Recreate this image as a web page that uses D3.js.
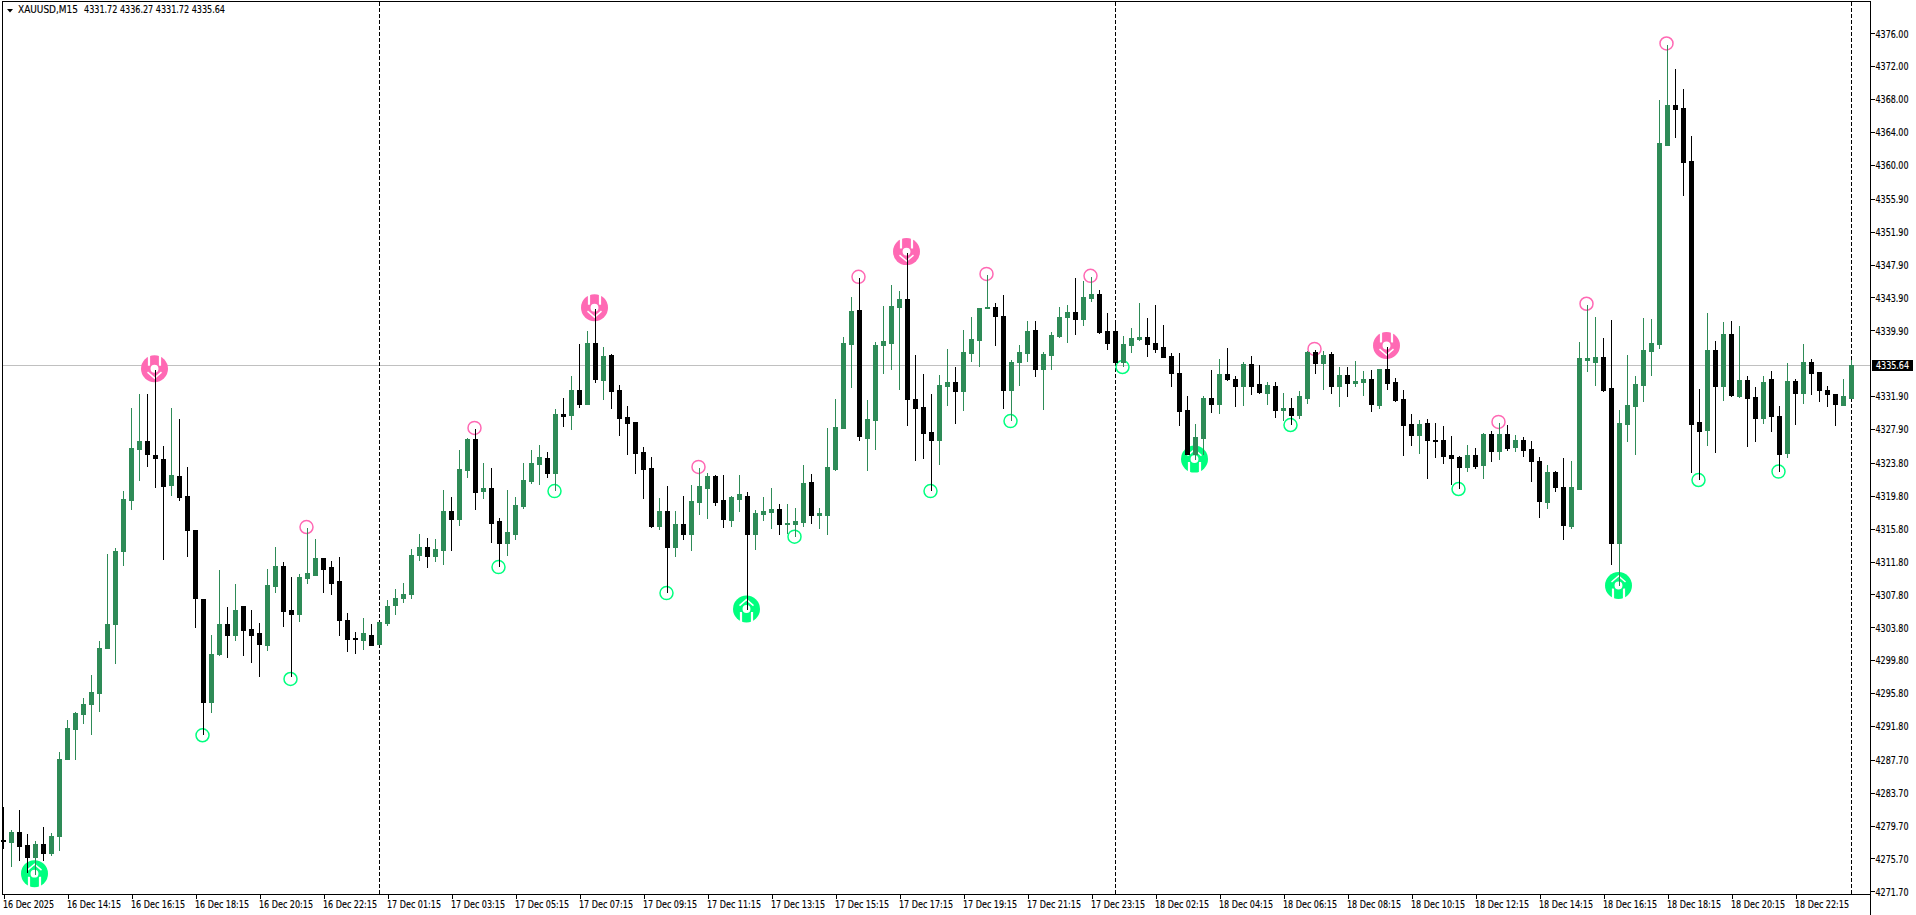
<!DOCTYPE html>
<html>
<head>
<meta charset="utf-8">
<script src="https://cdn.jsdelivr.net/npm/d3@7/dist/d3.min.js"></script>
<style>
html,body{margin:0;padding:0;background:#fff;overflow:hidden}
svg{display:block}
text{font-family:"DejaVu Sans Condensed","DejaVu Sans",sans-serif;font-size:10.5px;fill:#000;stroke:#000;stroke-width:.15px}
</style>
</head>
<body>
<svg id="chart" width="1916" height="915"></svg>
<script>
const symbolLabel = "XAUUSD,M15";
const headerQuote = "4331.72 4336.27 4331.72 4335.64";
const lastPrice = 4335.64;

const opens = [4277.96,4277.73,4278.98,4277.29,4275.91,4277.42,4276.40,4278.45,4287.81,4291.47,
4293.29,4294.50,4295.83,4301.32,4304.26,4313.13,4319.33,4325.52,4326.42,4324.81,
4324.32,4321.16,4322.14,4319.82,4315.58,4307.29,4294.76,4300.60,4304.26,4302.92,
4306.36,4303.55,4303.06,4301.67,4308.85,4311.30,4305.86,4305.46,4309.83,4310.19,
4312.19,4311.08,4309.39,4304.75,4302.48,4302.30,4302.92,4301.76,4304.30,4306.53,
4307.39,4307.84,4312.58,4313.55,4312.46,4313.19,4317.93,4316.96,4322.91,4326.68,
4320.36,4320.73,4316.71,4314.04,4315.13,4318.54,4321.58,4323.64,4324.37,4322.55,
4329.72,4329.60,4332.64,4330.94,4338.35,4333.85,4336.89,4332.64,4329.36,4328.75,
4325.10,4323.16,4316.11,4317.93,4313.55,4316.35,4315.13,4319.02,4320.73,4322.18,
4319.27,4316.84,4319.39,4319.75,4315.13,4317.57,4317.81,4318.17,4316.35,4316.35,
4316.59,4321.46,4317.45,4317.45,4323.04,4328.02,4338.23,4342.37,4326.81,4328.99,
4338.11,4338.35,4342.73,4343.70,4331.55,4330.57,4327.53,4326.56,4333.13,4333.61,
4332.52,4337.14,4338.72,4342.61,4342.73,4341.64,4332.64,4336.04,4337.14,4339.93,
4335.19,4336.89,4339.20,4341.51,4342.12,4341.27,4343.82,4344.31,4339.81,4339.81,
4336.04,4338.11,4338.84,4339.08,4338.35,4337.87,4336.77,4334.71,4330.21,4324.82,
4326.80,4331.67,4330.94,4334.58,4333.98,4333.13,4335.80,4333.37,4332.27,4333.13,
4330.21,4330.45,4329.60,4331.67,4337.26,4335.92,4337.02,4333.13,4334.46,4333.49,
4333.61,4333.98,4330.82,4335.19,4333.61,4331.55,4328.51,4327.17,4328.63,4326.56,
4326.56,4324.74,4324.50,4323.28,4324.74,4323.52,4327.29,4325.22,4327.29,4325.71,
4326.56,4325.45,4324.06,4319.03,4322.71,4320.90,4316.15,4320.57,4336.29,4336.06,
4336.67,4332.90,4314.10,4328.52,4330.71,4333.27,4337.41,4338.25,4362.44,4367.32,
4366.95,4360.53,4328.76,4327.83,4337.55,4333.18,4339.46,4331.92,4333.88,4331.83,
4329.27,4334.01,4329.50,4324.99,4333.78,4332.29,4336.06,4334.85,4332.67,4332.20,
4330.85,4331.72];

const highs = [4282.01,4279.16,4281.57,4278.67,4277.78,4279.52,4278.85,4288.61,4292.58,4293.47,
4295.17,4297.97,4302.08,4312.77,4313.40,4320.35,4330.43,4332.12,4332.21,4335.06,
4325.79,4330.43,4329.14,4323.30,4315.58,4307.29,4302.83,4310.72,4306.27,4309.07,
4306.44,4305.91,4304.30,4310.86,4313.53,4311.70,4309.97,4310.28,4315.85,4314.51,
4312.19,4311.84,4312.33,4305.55,4303.28,4304.93,4304.17,4304.39,4307.07,4308.41,
4309.14,4313.27,4315.13,4314.65,4314.53,4320.48,4319.63,4325.34,4326.76,4327.90,
4323.76,4323.16,4317.08,4320.48,4319.63,4323.76,4325.34,4325.95,4325.10,4330.33,
4331.67,4334.34,4338.23,4339.81,4342.48,4337.87,4337.01,4333.25,4330.69,4328.75,
4325.71,4324.49,4319.51,4320.97,4317.93,4319.75,4321.09,4323.16,4322.55,4322.31,
4322.31,4319.75,4322.31,4320.24,4318.05,4319.63,4320.73,4318.78,4318.78,4318.30,
4323.52,4322.43,4318.30,4328.02,4331.55,4339.08,4343.95,4346.26,4331.42,4338.48,
4342.85,4345.40,4344.67,4349.29,4336.89,4334.59,4332.15,4334.46,4337.62,4335.44,
4339.93,4341.51,4342.61,4346.62,4343.22,4344.19,4336.29,4338.11,4341.03,4341.03,
4337.26,4339.69,4342.73,4342.97,4346.26,4345.89,4346.38,4344.80,4342.00,4341.15,
4339.20,4340.18,4343.22,4341.39,4342.97,4340.54,4337.14,4337.14,4331.91,4328.51,
4331.91,4335.07,4336.41,4337.75,4334.34,4336.04,4336.77,4335.68,4333.61,4333.61,
4332.27,4331.67,4332.52,4337.38,4337.50,4337.38,4337.26,4335.44,4335.44,4336.16,
4334.95,4335.07,4335.19,4337.87,4334.10,4332.64,4329.72,4328.99,4329.11,4328.63,
4328.26,4327.05,4324.62,4325.95,4325.59,4327.41,4327.66,4328.63,4328.38,4327.17,
4326.93,4326.48,4324.52,4323.55,4322.76,4324.38,4324.06,4338.53,4342.99,4341.55,
4338.99,4341.13,4330.25,4336.95,4334.39,4341.41,4341.32,4367.93,4374.63,4371.70,
4369.28,4363.55,4332.80,4342.02,4338.62,4340.95,4341.04,4340.43,4334.39,4332.99,
4334.39,4334.99,4330.66,4335.97,4334.01,4338.25,4336.43,4334.85,4333.18,4332.20,
4334.01,4336.27];

const lows = [4276.98,4274.84,4275.55,4274.08,4273.86,4275.55,4276.17,4276.75,4287.81,4287.81,
4292.22,4290.89,4293.65,4301.32,4299.49,4311.39,4318.21,4321.74,4323.43,4320.89,
4312.15,4319.86,4319.33,4312.51,4303.86,4290.80,4293.56,4300.47,4300.25,4302.30,
4300.47,4299.62,4297.93,4301.05,4308.14,4303.95,4297.93,4304.62,4309.21,4310.19,
4308.14,4307.87,4302.92,4300.92,4300.69,4301.14,4301.67,4301.76,4304.13,4305.46,
4306.91,4307.39,4311.97,4311.16,4311.85,4311.53,4313.19,4316.23,4322.06,4318.17,
4319.51,4314.16,4311.24,4312.58,4314.53,4318.29,4321.33,4321.21,4322.06,4320.48,
4328.26,4327.90,4330.57,4330.94,4333.61,4331.54,4330.45,4327.17,4324.86,4322.55,
4319.51,4315.98,4315.74,4308.08,4312.46,4314.53,4313.19,4317.56,4317.08,4318.66,
4315.98,4316.11,4317.93,4306.02,4313.31,4316.84,4315.91,4315.14,4315.26,4314.94,
4316.11,4316.47,4315.87,4315.14,4322.92,4328.02,4333.01,4326.56,4322.92,4325.47,
4334.71,4335.19,4332.76,4328.39,4324.13,4324.37,4320.48,4323.64,4330.82,4328.63,
4330.21,4336.17,4335.56,4342.61,4338.11,4330.45,4328.99,4333.25,4336.17,4334.34,
4330.33,4335.19,4339.08,4338.48,4339.45,4340.54,4343.46,4339.57,4337.62,4336.04,
4335.56,4337.26,4338.72,4336.77,4337.26,4336.65,4333.13,4328.38,4324.82,4324.25,
4324.82,4329.97,4329.84,4333.86,4330.69,4330.82,4332.15,4332.27,4330.94,4329.36,
4328.99,4328.51,4329.24,4331.06,4334.71,4332.76,4332.27,4330.69,4331.91,4333.13,
4332.03,4330.09,4330.45,4332.76,4331.30,4324.74,4325.95,4324.98,4321.94,4324.50,
4323.77,4321.21,4320.73,4322.79,4323.16,4321.94,4324.01,4324.25,4325.35,4325.22,
4324.62,4321.59,4317.27,4318.34,4320.34,4314.57,4315.87,4320.57,4334.99,4333.27,
4332.57,4311.50,4308.89,4326.48,4324.90,4331.32,4334.48,4337.78,4362.39,4363.41,
4356.39,4322.71,4321.83,4325.97,4325.13,4331.46,4331.87,4331.83,4325.87,4326.48,
4328.66,4327.69,4322.85,4324.52,4328.52,4331.13,4332.20,4331.32,4330.71,4328.43,
4330.85,4331.72];

const closes = [4277.78,4278.98,4277.24,4275.91,4277.42,4276.40,4278.49,4287.85,4291.51,4293.38,
4294.54,4295.88,4301.27,4304.17,4313.09,4319.46,4325.66,4326.42,4324.90,4324.41,
4321.02,4322.27,4319.68,4315.67,4307.38,4294.76,4300.60,4304.26,4302.92,4305.95,
4303.50,4302.92,4301.81,4308.90,4311.30,4305.82,4305.46,4309.88,4310.37,4312.19,
4310.95,4309.21,4304.71,4302.43,4302.39,4303.06,4301.67,4304.39,4306.44,4307.42,
4307.84,4312.58,4313.55,4312.50,4313.27,4317.93,4316.96,4323.04,4326.68,4320.28,
4320.73,4316.47,4314.04,4315.38,4318.66,4321.70,4323.76,4324.49,4322.55,4329.72,
4329.48,4332.64,4330.94,4338.35,4333.98,4336.77,4332.52,4329.23,4328.63,4324.98,
4323.04,4316.11,4317.93,4313.55,4316.35,4315.13,4319.15,4320.97,4322.18,4319.02,
4316.96,4319.63,4320.00,4315.13,4317.69,4317.93,4318.17,4316.35,4316.47,4316.72,
4321.34,4317.45,4317.69,4323.28,4328.14,4338.35,4342.24,4327.05,4329.12,4338.11,
4338.60,4342.85,4343.70,4331.55,4330.45,4327.41,4326.56,4333.25,4333.61,4332.52,
4337.26,4338.84,4342.61,4342.73,4341.64,4332.64,4336.04,4337.26,4339.81,4335.19,
4337.02,4339.33,4341.51,4342.12,4341.27,4343.95,4344.31,4339.69,4338.35,4336.04,
4338.23,4338.96,4339.08,4338.23,4337.62,4336.65,4334.71,4330.09,4324.82,4326.93,
4331.67,4330.94,4334.58,4333.94,4333.13,4335.80,4333.13,4332.40,4333.25,4330.21,
4330.45,4329.60,4331.91,4337.26,4335.92,4336.89,4333.13,4334.46,4333.49,4333.73,
4333.98,4330.94,4335.19,4333.49,4331.42,4328.38,4327.17,4328.51,4326.56,4326.44,
4324.62,4324.37,4323.28,4324.74,4323.40,4327.29,4325.22,4327.29,4325.59,4326.56,
4325.35,4324.06,4319.17,4322.71,4320.80,4316.24,4320.90,4336.57,4336.57,4336.67,
4332.67,4314.10,4328.66,4330.85,4333.41,4337.55,4338.39,4362.72,4367.32,4366.81,
4360.39,4328.52,4327.69,4337.55,4333.18,4339.46,4332.06,4333.88,4331.69,4329.27,
4333.64,4329.50,4324.90,4333.78,4332.29,4336.06,4334.76,4332.67,4332.20,4330.94,
4331.92,4335.64];

const priceTicks = [4376.00,4372.00,4368.00,4364.00,4360.00,4355.90,4351.90,4347.90,4343.90,4339.90,
4331.90,4327.90,4323.80,4319.80,4315.80,4311.80,4307.80,4303.80,4299.80,4295.80,4291.80,
4287.70,4283.70,4279.70,4275.70,4271.70];

const timeTickBars = [0,8,16,24,32,40,48,56,64,72,80,88,96,104,112,120,128,136,144,152,160,168,176,184,192,200,208,216,224];
const timeTickLabels = ["16 Dec 2025","16 Dec 14:15","16 Dec 16:15","16 Dec 18:15","16 Dec 20:15","16 Dec 22:15",
"17 Dec 01:15","17 Dec 03:15","17 Dec 05:15","17 Dec 07:15","17 Dec 09:15","17 Dec 11:15","17 Dec 13:15","17 Dec 15:15","17 Dec 17:15","17 Dec 19:15","17 Dec 21:15","17 Dec 23:15",
"18 Dec 02:15","18 Dec 04:15","18 Dec 06:15","18 Dec 08:15","18 Dec 10:15","18 Dec 12:15","18 Dec 14:15","18 Dec 16:15","18 Dec 18:15","18 Dec 20:15","18 Dec 22:15"];

const periodSeparatorBars = [47,139,231];
const smallHighBars = [38,59,87,107,123,136,164,187,198,208];
const smallLowBars = [25,36,62,69,83,99,116,126,140,161,182,212,222];
const smallLowPrices = [4290.68,4297.52,4311.12,4320.36,4307.96,4314.82,4320.36,4328.87,4335.44,4328.39,4320.61,4321.71,4322.73];
const bigHighBars = [19,74,113,173];
const bigLowBars = [4,93,149,202];

const upColor = "#2e8b57", downColor = "#000000";
const highColor = "#ff69b4", lowColor = "#00ff7f";

const svg = d3.select("#chart");
const x = d3.scaleLinear().domain([0,231]).range([3.5,1851.5]);
const y = d3.scaleLinear().domain([4376,4271.7]).range([33.4,891.4]);
const left = 2, top_ = 1, right = 1870, bottom = 894;

/* price line */
const ly = Math.floor(y(lastPrice))+0.5;
svg.append("line").attr("x1",left).attr("x2",right).attr("y1",ly).attr("y2",ly)
  .attr("stroke","#c0c0c0").attr("stroke-width",1).attr("shape-rendering","crispEdges");

/* period separators */
svg.append("g").selectAll("line").data(periodSeparatorBars).join("line")
  .attr("x1",d=>x(d)).attr("x2",d=>x(d)).attr("y1",top_+1).attr("y2",bottom)
  .attr("stroke","#000").attr("stroke-dasharray","4,2").attr("shape-rendering","crispEdges");

/* markers */
const smallG = svg.append("g");
smallG.selectAll("circle.h").data(smallHighBars).join("circle").attr("class","h")
  .attr("cx",d=>x(d)-1).attr("cy",d=>y(highs[d])-1.2).attr("r",6.5)
  .attr("fill","none").attr("stroke",highColor).attr("stroke-width",1.5);
smallG.selectAll("circle.l").data(smallLowBars).join("circle").attr("class","l")
  .attr("cx",d=>x(d)-1).attr("cy",(d,i)=>y(smallLowPrices[i])).attr("r",6.5)
  .attr("fill","none").attr("stroke",lowColor).attr("stroke-width",1.5);

function bigMarker(bars, price, dy, flip, color){
  const g = svg.append("g").selectAll("g").data(bars).join("g")
    .attr("transform",d=>`translate(${x(d)-1},${y(price[d])+dy}) scale(1,${flip})`);
  g.append("circle").attr("r",13.5).attr("fill",color);
  g.append("path").attr("d","M-5.5,-14V-3M5.5,-14V-3").attr("stroke","#fff").attr("stroke-width",2.2).attr("fill","none");
  g.append("circle").attr("r",4.8).attr("fill","#fff").attr("stroke",color).attr("stroke-width",1.7);
  g.append("path").attr("d","M-7,3.5L0,9.5L7,3.5").attr("stroke","#fff").attr("stroke-width",1.5).attr("fill","none");
}
bigMarker(bigHighBars,highs,-1.5,1,highColor);
bigMarker(bigLowBars,lows,0,-1,lowColor);

/* candles */
const bars = d3.range(opens.length);
const isUp = i => closes[i] >= opens[i];
const col = i => isUp(i) ? upColor : downColor;
const cg = svg.append("g").attr("shape-rendering","crispEdges");
cg.selectAll("rect.w").data(bars).join("rect").attr("class","w")
  .attr("x",i=>x(i)-0.5).attr("width",1)
  .attr("y",i=>Math.round(y(highs[i])))
  .attr("height",i=>Math.round(y(lows[i]))-Math.round(y(highs[i]))+1)
  .attr("fill",col);
cg.selectAll("rect.b").data(bars).join("rect").attr("class","b")
  .attr("x",i=>x(i)-2.5).attr("width",5)
  .attr("y",i=>Math.round(y(Math.max(opens[i],closes[i]))))
  .attr("height",i=>Math.round(y(Math.min(opens[i],closes[i])))-Math.round(y(Math.max(opens[i],closes[i])))+1)
  .attr("fill",col);

/* frame */
const frame = svg.append("g").attr("stroke","#000").attr("shape-rendering","crispEdges");
frame.append("line").attr("x1",left+.5).attr("x2",left+.5).attr("y1",top_).attr("y2",bottom+.5);
frame.append("line").attr("x1",left).attr("x2",right+1).attr("y1",top_+.5).attr("y2",top_+.5);
frame.append("line").attr("x1",right+.5).attr("x2",right+.5).attr("y1",top_).attr("y2",915);
frame.append("line").attr("x1",left).attr("x2",right+1).attr("y1",bottom+.5).attr("y2",bottom+.5);

/* axes */
const axisY = d3.axisRight(y).tickValues(priceTicks).tickFormat(d3.format(".2f")).tickSize(4).tickPadding(1);
const gy = svg.append("g").attr("transform",`translate(${right+.5},0)`).call(axisY);
gy.select(".domain").remove();
gy.selectAll(".tick line").attr("stroke","#000").attr("shape-rendering","crispEdges");
gy.selectAll("text").attr("fill","#000").attr("dy","0.35em")
  .attr("textLength",33).attr("lengthAdjust","spacingAndGlyphs");

const axisX = d3.axisBottom(x).tickValues(timeTickBars).tickFormat((d,i)=>timeTickLabels[i]).tickSize(4).tickPadding(2);
const gx = svg.append("g").attr("transform",`translate(0,${bottom+.5})`).call(axisX);
gx.select(".domain").remove();
gx.selectAll(".tick line").attr("stroke","#000").attr("shape-rendering","crispEdges");
gx.selectAll("text").attr("fill","#000").attr("text-anchor","start").attr("x",-1)
  .attr("textLength",(d,i)=>i===0?51:54).attr("lengthAdjust","spacingAndGlyphs");

/* last price tag */
svg.append("rect").attr("x",right+2).attr("y",ly-5.5).attr("width",41).attr("height",11).attr("fill","#000");
svg.append("text").attr("x",right+6).attr("y",ly+3.5).style("fill","#fff").style("stroke","#fff").text(d3.format(".2f")(lastPrice))
  .attr("textLength",33).attr("lengthAdjust","spacingAndGlyphs");

/* header */
svg.append("path").attr("d",d3.line()([[7,9],[13,9],[10,12.5]])+"Z").attr("fill","#000");
svg.append("text").attr("x",18).attr("y",13).text(symbolLabel).attr("textLength",60).attr("lengthAdjust","spacingAndGlyphs");
svg.append("text").attr("x",84).attr("y",13).text(headerQuote).attr("textLength",141).attr("lengthAdjust","spacingAndGlyphs");
</script>
</body>
</html>
